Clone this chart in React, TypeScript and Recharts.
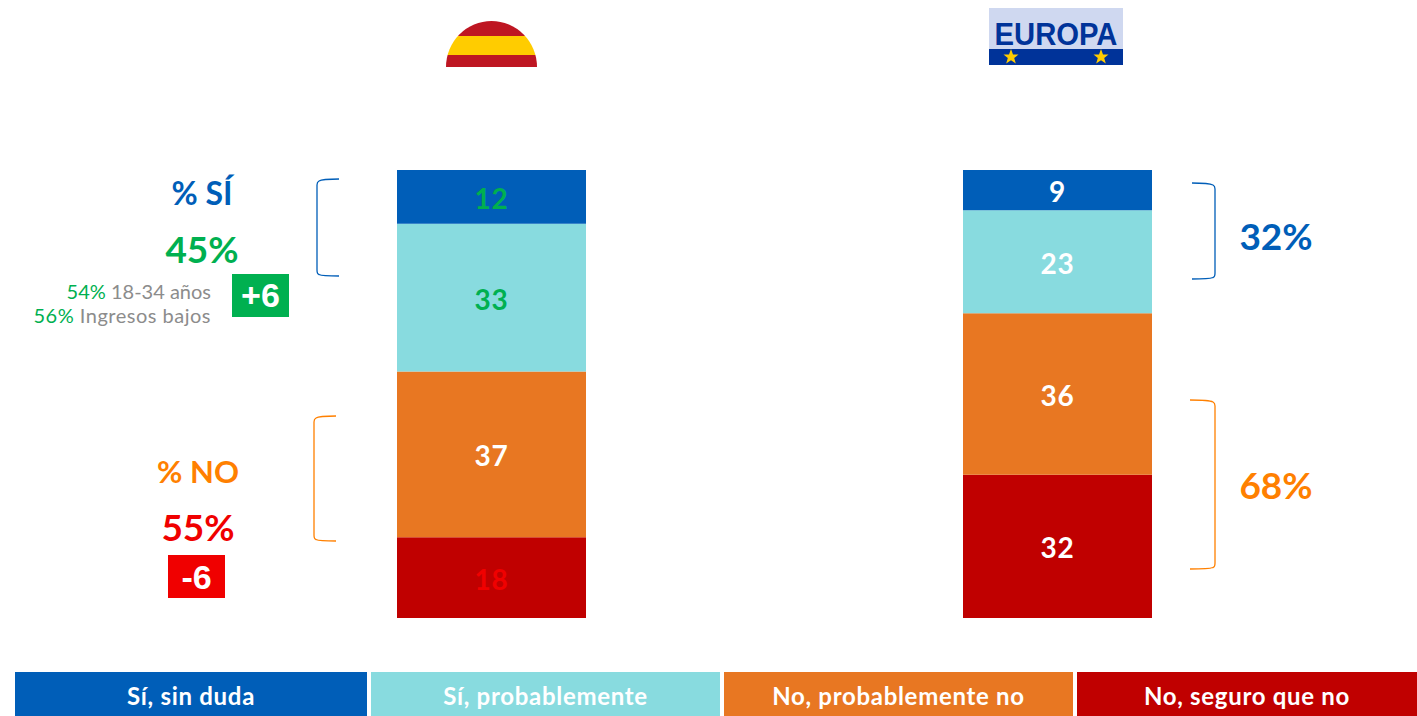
import { Bar, BarChart, LabelList, XAxis, YAxis } from "recharts";

const regions = ["España", "Europa"];
const siSinDuda = [12, 9];
const siProbablemente = [33, 23];
const noProbablemente = [37, 36];
const noSeguro = [18, 32];

const legendLabels = ["Sí, sin duda", "Sí, probablemente", "No, probablemente no", "No, seguro que no"];

const BLUE = "#005EB8";
const AQUA = "#88DBDF";
const ORANGE = "#E87722";
const DARKRED = "#C00000";
const GREEN = "#00B050";
const RED = "#F00000";
const BRIGHT_ORANGE = "#FF8000";
const FONT = "Lato, sans-serif";

const chartData = regions.map((region, i) => ({
    region,
    siSinDuda: siSinDuda[i],
    siProbablemente: siProbablemente[i],
    noProbablemente: noProbablemente[i],
    noSeguro: noSeguro[i],
}));

// colour of the number inside each segment: [España, Europa]
const makeLabel = (colors: string[]) => (props: any) => {
    const { x, y, width, height, value, index } = props;
    return (
        <text
            x={x + width / 2}
            y={y + height / 2 + 12}
            textAnchor="middle"
            fontFamily={FONT}
            fontWeight={700}
            fontSize={28}
            letterSpacing={0.8}
            fill={colors[index]}
        >
            {value}
        </text>
    );
};

const Bracket = ({ d, color }: { d: string; color: string }) => (
    <path d={d} fill="none" stroke={color} strokeWidth={1.3} />
);

const STAR = "M0 -8 L2 -2.5 L7.5 -2.5 L3.2 1 L4.8 6.5 L0 3.2 L-4.8 6.5 L-3.2 1 L-7.5 -2.5 L-2 -2.5 Z";

const Flags = () => (
    <svg width={1417} height={80} style={{ position: "absolute", left: 0, top: 0 }}>
        <defs>
            <clipPath id="half">
                <path d="M446 67 A45.5 46 0 0 1 537 67 Z" />
            </clipPath>
        </defs>
        <g clipPath="url(#half)">
            <rect x={446} y={20} width={91} height={16} fill="#BE1622" />
            <rect x={446} y={36} width={91} height={19} fill="#FFCC00" />
            <rect x={446} y={55} width={91} height={12} fill="#BE1622" />
        </g>
        <rect x={989} y={8} width={134} height={41} fill="#CFD8F0" />
        <rect x={989} y={49} width={134} height={16} fill="#003399" />
        <text x={1056} y={45} textAnchor="middle" textLength={123} lengthAdjust="spacingAndGlyphs" fontFamily="'Liberation Sans', sans-serif" fontWeight={700} fontSize={31} fill="#003399">
            EUROPA
        </text>
        <path d={STAR} transform="translate(1011 57)" fill="#FFCC00" />
        <path d={STAR} transform="translate(1101 57)" fill="#FFCC00" />
    </svg>
);

const Notes = () => (
    <svg width={1417} height={716} style={{ position: "absolute", left: 0, top: 0 }} fontFamily={FONT}>
        <Bracket color={BLUE} d="M339 179 Q322 179 319 181 Q317 182 317 185 V270 Q317 274 319 274.5 Q322 276 339 276" />
        <Bracket color={BRIGHT_ORANGE} d="M336 416 Q319 416 316 418 Q314 419 314 422 V535 Q314 539 316 539.5 Q319 541 336 541" />
        <Bracket color={BLUE} d="M1192 183 Q1209 183 1213 185 Q1215 186 1215 189 V273 Q1215 277 1213 277.5 Q1209 279 1192 279" />
        <Bracket color={BRIGHT_ORANGE} d="M1190 400 Q1209 400 1213 402 Q1215 403 1215 406 V563 Q1215 567 1213 567.5 Q1209 569 1190 569" />

        <text x={202} y={205} textAnchor="middle" fontSize={32} fontWeight={700} fill={BLUE}>% SÍ</text>
        <text x={202} y={263} textAnchor="middle" fontSize={37} fontWeight={700} fill={GREEN}>45%</text>
        <text x={211} y={299} textAnchor="end" fontSize={20} fontWeight={400} fill="#8C8C8C">
            <tspan fill={GREEN}>54%</tspan> 18-34 años
        </text>
        <text x={211} y={323} textAnchor="end" fontSize={20} fontWeight={400} letterSpacing={0.5} fill="#8C8C8C">
            <tspan fill={GREEN}>56%</tspan> Ingresos bajos
        </text>
        <rect x={232} y={274} width={57} height={43} fill={GREEN} />
        <text x={260.5} y={307} textAnchor="middle" fontFamily="'Liberation Sans', sans-serif" fontSize={34} fontWeight={700} fill="#fff">+6</text>

        <text x={198} y={483} textAnchor="middle" fontSize={31} fontWeight={700} fill={BRIGHT_ORANGE}>% NO</text>
        <text x={198} y={541} textAnchor="middle" fontSize={37} fontWeight={700} fill={RED}>55%</text>
        <rect x={168} y={555} width={57} height={43} fill={RED} />
        <text x={196.5} y={589} textAnchor="middle" fontFamily="'Liberation Sans', sans-serif" fontSize={34} fontWeight={700} fill="#fff">-6</text>

        <text x={1276} y={250} textAnchor="middle" fontSize={37} fontWeight={700} fill={BLUE}>32%</text>
        <text x={1276} y={499} textAnchor="middle" fontSize={37} fontWeight={700} fill={BRIGHT_ORANGE}>68%</text>
    </svg>
);

const legendBoxes = [
    { left: 15, width: 352, background: BLUE },
    { left: 371, width: 349, background: AQUA },
    { left: 724, width: 349, background: ORANGE },
    { left: 1077, width: 340, background: DARKRED },
];

const LegendBar = () => (
    <>
        {legendLabels.map((label, i) => (
            <div
                key={label}
                style={{
                    position: "absolute",
                    top: 672,
                    height: 44,
                    lineHeight: "48px",
                    left: legendBoxes[i].left,
                    width: legendBoxes[i].width,
                    background: legendBoxes[i].background,
                    color: "#fff",
                    textAlign: "center",
                    fontFamily: FONT,
                    fontWeight: 700,
                    fontSize: 24,
                    letterSpacing: 0.7,
                }}
            >
                {label}
            </div>
        ))}
    </>
);

const App = () => {
    return (
        <div style={{ position: "absolute", left: 0, top: 0, width: 1417, height: 716, overflow: "hidden", background: "#fff" }}>
            <BarChart
                width={1417}
                height={716}
                data={chartData}
                margin={{ top: 170, right: 77, bottom: 98, left: 208 }}
                barSize={189}
            >
                <XAxis dataKey="region" hide />
                <YAxis hide domain={[0, 100]} />
                <Bar dataKey="noSeguro" stackId="a" fill={DARKRED} isAnimationActive={false}>
                    <LabelList dataKey="noSeguro" content={makeLabel([RED, "#fff"])} />
                </Bar>
                <Bar dataKey="noProbablemente" stackId="a" fill={ORANGE} isAnimationActive={false}>
                    <LabelList dataKey="noProbablemente" content={makeLabel(["#fff", "#fff"])} />
                </Bar>
                <Bar dataKey="siProbablemente" stackId="a" fill={AQUA} isAnimationActive={false}>
                    <LabelList dataKey="siProbablemente" content={makeLabel([GREEN, "#fff"])} />
                </Bar>
                <Bar dataKey="siSinDuda" stackId="a" fill={BLUE} isAnimationActive={false}>
                    <LabelList dataKey="siSinDuda" content={makeLabel([GREEN, "#fff"])} />
                </Bar>
            </BarChart>
            <Flags />
            <Notes />
            <LegendBar />
        </div>
    );
};

export default App;
